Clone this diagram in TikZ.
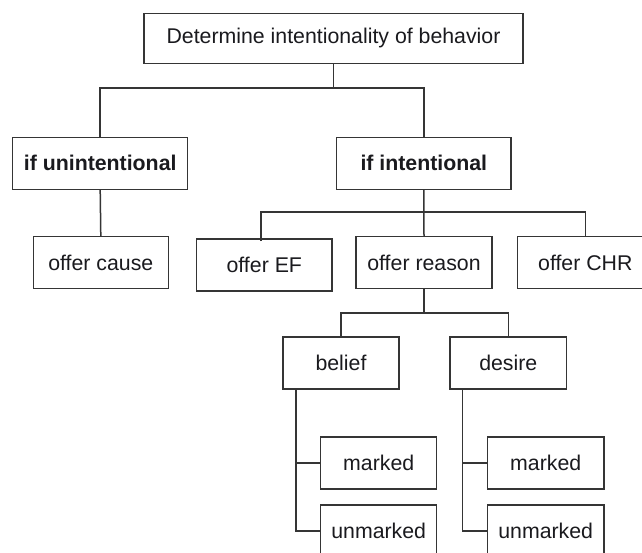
\documentclass[tikz,border=0pt]{standalone}
\usepackage{fontspec}
\setmainfont{Liberation Sans}
\definecolor{linec}{HTML}{353535}
\definecolor{textc}{HTML}{1A1A1E}
\begin{document}
\begin{tikzpicture}[x=1pt,y=-1pt,
  box/.style={draw=linec,line width=1.5pt,fill=white,inner sep=0pt,text=textc,font=\fontsize{21.3}{25}\selectfont},
  boldbox/.style={box,font=\fontsize{21.3}{25}\selectfont\bfseries},
  conn/.style={draw=linec,line width=1.5pt}]
\useasboundingbox[fill=white] (0,0) rectangle (642,553);
\clip (0,0) rectangle (642,553);
% nodes
\node[box,minimum width=379pt,minimum height=50pt] (top) at (333.5,38.3) {Determine intentionality of behavior};
\node[boldbox,minimum width=175pt,minimum height=52pt] (unint) at (100.2,163.3) {if unintentional};
\node[boldbox,minimum width=174.5pt,minimum height=52pt] (int) at (423.8,163.3) {if intentional};
\node[box,minimum width=135pt,minimum height=51.6pt] (cause) at (100.8,262.5) {offer cause};
\node[box,minimum width=135.5pt,minimum height=52pt] (ef) at (264.3,265) {offer EF};
\node[box,minimum width=136pt,minimum height=51.6pt] (reason) at (424,262.5) {offer reason};
\node[box,minimum width=136pt,minimum height=51.6pt] (chr) at (585.3,262.5) {offer CHR};
\node[box,minimum width=116pt,minimum height=52pt] (belief) at (341,363.2) {belief};
\node[box,minimum width=116.6pt,minimum height=52pt] (desire) at (508.3,363.2) {desire};
\node[box,minimum width=116pt,minimum height=52.3pt] (m1) at (378.7,462.9) {marked};
\node[box,minimum width=116pt,minimum height=52pt] (u1) at (378.7,531) {unmarked};
\node[box,minimum width=116.7pt,minimum height=52.3pt] (m2) at (545.7,462.9) {marked};
\node[box,minimum width=116.7pt,minimum height=52pt] (u2) at (545.7,531) {unmarked};
% bus coordinates
\coordinate (b1) at (333.5,88);
\coordinate (b2) at (423.8,212);
\coordinate (b3) at (424,313);
\coordinate (efc) at (261,212);
\coordinate (bv) at (296,389.2);
\coordinate (dv) at (462.7,389.2);
% connectors
\draw[conn] (top.south) -- (b1);
\draw[conn] (unint.north) |- (b1);
\draw[conn] (int.north) |- (b1);
\draw[conn] (unint.south) -- (cause.north);
\draw[conn] (int.south) -- (reason.north);
\draw[conn] ([yshift=-3pt]efc |- ef.north) -- (efc) -- (b2);
\draw[conn] (chr.north) |- (b2);
\draw[conn] (reason.south) -- (b3);
\draw[conn] (belief.north) |- (b3);
\draw[conn] (desire.north) |- (b3);
\draw[conn] (u1.west) -| (bv);
\draw[conn] (m1.west) -- (m1.west -| bv);
\draw[conn] (u2.west) -| (dv);
\draw[conn] (m2.west) -- (m2.west -| dv);
\end{tikzpicture}
\end{document}
